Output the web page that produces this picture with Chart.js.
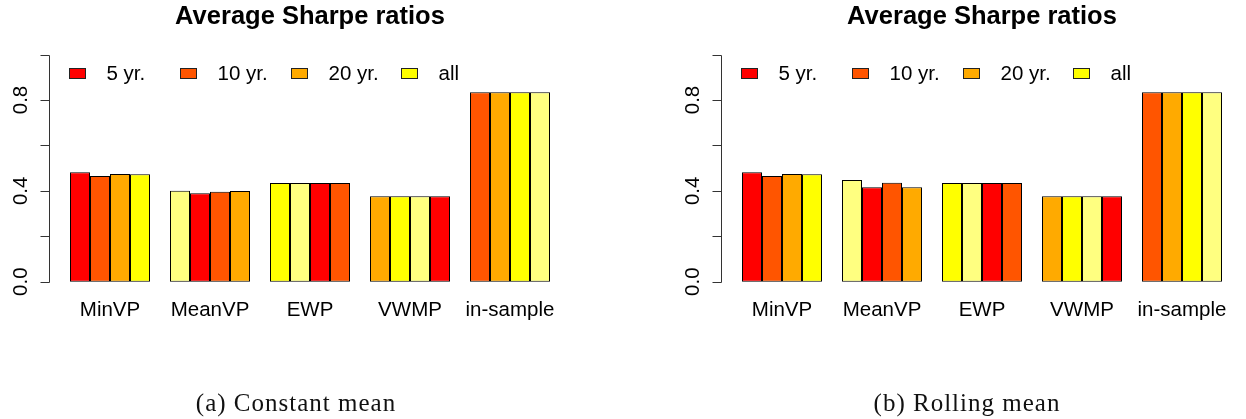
<!DOCTYPE html>
<html>
<head>
<meta charset="utf-8">
<script src="https://cdn.jsdelivr.net/npm/chart.js@4/dist/chart.umd.min.js"></script>
<style>
  body { margin: 0; background: #fff; }
  #wrap { position: relative; width: 1246px; height: 419px; overflow: hidden; }
  #wrap canvas { position: absolute; left: 0; top: 0; }
  .caption {
    position: absolute; top: 391px; width: 400px; text-align: center;
    font-family: "Liberation Serif", serif; font-size: 25px; line-height: 24px;
    letter-spacing: 1px; color: #111;
  }
</style>
</head>
<body>
<div id="wrap">
  <canvas id="chartA" width="1246" height="419"></canvas>
  <canvas id="chartB" width="1246" height="419"></canvas>
  <div class="caption" style="left:96px">(a) Constant mean</div>
  <div class="caption" style="left:767px">(b) Rolling mean</div>
</div>
<script>
/* ------------------------------------------- */
/* DATA -------------------------------------- */
/* ------------------------------------------- */
let categories = ["MinVP", "MeanVP", "EWP", "VWMP", "in-sample"];
let seriesNames = ["5 yr.", "10 yr.", "20 yr.", "all"];

// (a) constant mean
let constant5  = [0.482, 0.401, 0.435, 0.376, 0.834];
let constant10 = [0.465, 0.389, 0.435, 0.376, 0.834];
let constant20 = [0.474, 0.396, 0.435, 0.376, 0.834];
let constantAll = [0.473, 0.399, 0.435, 0.376, 0.834];

// (b) rolling mean
let rolling5  = [0.482, 0.448, 0.435, 0.376, 0.834];
let rolling10 = [0.465, 0.416, 0.435, 0.376, 0.834];
let rolling20 = [0.474, 0.436, 0.435, 0.376, 0.834];
let rollingAll = [0.473, 0.416, 0.435, 0.376, 0.834];

let yTicks = [0, 0.2, 0.4, 0.6, 0.8, 1.0];
let yTickLabels = ["0.0", "", "0.4", "", "0.8", ""];

/* ------------------------------------------- */
/* STYLE ------------------------------------- */
/* ------------------------------------------- */
// heat.colors(5), recycled over the bars the way R barplot does it
let palette = ["#FF0000", "#FF5500", "#FFAA00", "#FFFF00", "#FFFF80"];
let sansFont = "Liberation Sans, Arial, sans-serif";

function barColours(s){
  return categories.map((c, g) => palette[(g * seriesNames.length + s) % palette.length]);
}

/* ------------------------------------------- */
/* R STYLE AXIS, TITLE AND LEGEND ------------ */
/* ------------------------------------------- */
let rDecor = {
  id: 'rDecor',
  afterDraw(chart){
    let ctx = chart.ctx;
    let x = chart.scales.x;
    let y = chart.scales.y;
    let slot = x.getPixelForValue(1) - x.getPixelForValue(0);
    let bw = slot * 0.8 / seriesNames.length;
    let axisX = x.getPixelForValue(0) - 2 * bw - 0.96 * bw - 1.5;
    let plotRight = x.getPixelForValue(categories.length - 1) + 2 * bw + 0.96 * bw + 1.5;
    let ax = Math.round(axisX) + 0.5;

    ctx.save();
    // y axis
    ctx.strokeStyle = '#333';
    ctx.lineWidth = 1;
    ctx.beginPath();
    ctx.moveTo(ax, Math.round(y.getPixelForValue(yTicks[0])) + 0.5);
    ctx.lineTo(ax, Math.round(y.getPixelForValue(yTicks[yTicks.length - 1])) + 0.5);
    yTicks.forEach(v => {
      let py = Math.round(y.getPixelForValue(v)) + 0.5;
      ctx.moveTo(ax, py);
      ctx.lineTo(ax - 9, py);
    });
    ctx.stroke();

    // rotated tick labels
    ctx.fillStyle = '#000';
    ctx.font = '20.5px ' + sansFont;
    ctx.textAlign = 'center';
    ctx.textBaseline = 'alphabetic';
    yTicks.forEach((v, i) => {
      if (!yTickLabels[i]) return;
      ctx.save();
      ctx.translate(ax - 23, y.getPixelForValue(v));
      ctx.rotate(-Math.PI / 2);
      ctx.fillText(yTickLabels[i], 0, 0);
      ctx.restore();
    });

    // title
    ctx.font = 'bold 25.5px ' + sansFont;
    ctx.fillText(chart.options.plugins.rDecor.title, (axisX + plotRight) / 2, 24);

    // horizontal legend inside the plot
    ctx.font = '20.5px ' + sansFont;
    ctx.textAlign = 'left';
    ctx.textBaseline = 'middle';
    seriesNames.forEach((name, i) => {
      let bx = Math.round(axisX + 20 + i * 110.7) + 0.5;
      ctx.fillStyle = palette[i];
      ctx.fillRect(bx, 68.5, 16, 10);
      ctx.strokeStyle = '#222';
      ctx.strokeRect(bx, 68.5, 16, 10);
      ctx.fillStyle = '#000';
      ctx.fillText(name, bx + 37, 74);
    });
    ctx.restore();
  }
};

/* ------------------------------------------- */
/* CHARTS ------------------------------------ */
/* ------------------------------------------- */
function makeChart(id, title, values, padLeft, padRight){
  let cont = document.getElementById(id).getContext('2d');
  return new Chart(cont, {
    type: 'bar',
    data: {
      labels: categories,
      datasets: seriesNames.map((name, s) => ({
        label: name,
        data: values[s],
        backgroundColor: barColours(s),
        borderColor: '#000',
        borderWidth: 1,
        borderSkipped: false,
        inflateAmount: 0,
        categoryPercentage: 0.8,
        barPercentage: 1.0,
      }))
    },
    options: {
      responsive: false,
      animation: false,
      events: [],
      layout: {
        padding: { left: padLeft, right: padRight, top: 45.5, bottom: 88.2 }
      },
      plugins: {
        legend: { display: false },
        tooltip: { enabled: false },
        title: { display: false },
        rDecor: { title: title },
      },
      scales: {
        x: {
          grid: { display: false, drawTicks: false },
          border: { display: false },
          ticks: {
            color: '#000',
            padding: 7,
            maxRotation: 0,
            font: { family: sansFont, size: 20.5 },
          },
          afterFit: (scale) => { scale.height = 40; },
        },
        y: {
          display: false,
          min: -0.04,
          max: 1.04,
        }
      }
    },
    plugins: [rDecor]
  });
}

// slots of 100px so every bar edge lands on a whole pixel
let chartA = makeChart('chartA', 'Average Sharpe ratios',
  [constant5, constant10, constant20, constantAll], 60, 1246 - 560);
let chartB = makeChart('chartB', 'Average Sharpe ratios',
  [rolling5, rolling10, rolling20, rollingAll], 732, 1246 - 1232);
</script>
</body>
</html>
